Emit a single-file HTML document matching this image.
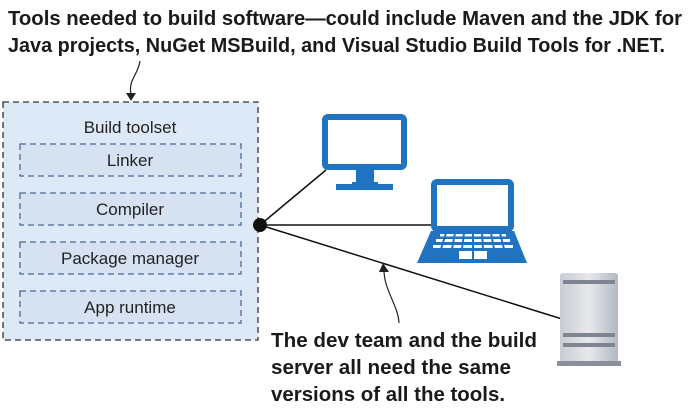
<!DOCTYPE html>
<html><head><meta charset="utf-8"><style>
html,body{margin:0;padding:0;background:#fff;}
svg{display:block;}
</style></head><body>
<svg width="697" height="411" viewBox="0 0 697 411" xmlns="http://www.w3.org/2000/svg">
<defs>
<linearGradient id="srv" x1="0" y1="0" x2="1" y2="0">
<stop offset="0" stop-color="#c9ccd4"/><stop offset="0.5" stop-color="#e6e8ec"/><stop offset="1" stop-color="#b4b8c2"/>
</linearGradient>
</defs>
<g font-family="Liberation Sans, sans-serif" font-weight="bold" font-size="20" fill="#1a1a1a">
<text x="8" y="25" textLength="674" lengthAdjust="spacingAndGlyphs">Tools needed to build software—could include Maven and the JDK for</text>
<text x="8" y="52" textLength="657" lengthAdjust="spacingAndGlyphs">Java projects, NuGet MSBuild, and Visual Studio Build Tools for .NET.</text>
<text x="271" y="347" textLength="266" lengthAdjust="spacingAndGlyphs">The dev team and the build</text>
<text x="271" y="374" textLength="240" lengthAdjust="spacingAndGlyphs">server all need the same</text>
<text x="271" y="401" textLength="234" lengthAdjust="spacingAndGlyphs">versions of all the tools.</text>
</g>
<!-- top arrow -->
<path d="M140 61 C138 75 128 80 131 94" fill="none" stroke="#222" stroke-width="1.2"/>
<polygon points="126,93 136,93 131,101" fill="#222"/>
<!-- outer box -->
<rect x="3" y="102" width="255" height="238" fill="#dde9f7" stroke="#333" stroke-width="1.3" stroke-dasharray="6,4"/>
<g font-family="Liberation Sans, sans-serif" font-size="17" fill="#222" text-anchor="middle">
<text x="130" y="133">Build toolset</text>
<rect x="20" y="144" width="221" height="32" fill="#d6e2f2" stroke="#4a6a95" stroke-width="1.3" stroke-dasharray="6,4"/>
<text x="130" y="166">Linker</text>
<rect x="20" y="193" width="221" height="32" fill="#d6e2f2" stroke="#4a6a95" stroke-width="1.3" stroke-dasharray="6,4"/>
<text x="130" y="215">Compiler</text>
<rect x="20" y="242" width="221" height="32" fill="#d6e2f2" stroke="#4a6a95" stroke-width="1.3" stroke-dasharray="6,4"/>
<text x="130" y="264">Package manager</text>
<rect x="20" y="291" width="221" height="32" fill="#d6e2f2" stroke="#4a6a95" stroke-width="1.3" stroke-dasharray="6,4"/>
<text x="130" y="313">App runtime</text>
</g>
<!-- connectors -->
<g stroke="#111" stroke-width="1.5">
<line x1="260" y1="225" x2="326" y2="170"/>
<line x1="260" y1="225" x2="434" y2="225"/>
<line x1="260" y1="225" x2="562" y2="319"/>
</g>
<circle cx="260" cy="225" r="7" fill="#111"/>
<!-- bottom arrow -->
<path d="M399 323 C398 305 384 290 384 270" fill="none" stroke="#222" stroke-width="1.2"/>
<polygon points="379,272 389,272 383,263" fill="#222"/>
<!-- monitor -->
<rect x="325" y="117" width="79" height="50" rx="3" fill="#fff" stroke="#1f73c0" stroke-width="6"/>
<rect x="356" y="170" width="18" height="12" fill="#1f73c0"/>
<path d="M352 182 h26 v3 h-26z" fill="#1f73c0"/>
<rect x="336" y="184" width="57" height="6" fill="#1f73c0"/>
<!-- laptop -->
<rect x="434" y="182" width="77" height="47" rx="3" fill="#fff" stroke="#1f73c0" stroke-width="6"/>
<polygon points="431,231 514,231 527,263 417,263" fill="#1f73c0"/>
<g fill="#fff">
<rect x="440" y="234" width="66" height="2.5"/>
<rect x="436" y="239" width="74" height="3"/>
<rect x="433" y="245" width="80" height="3"/>
<rect x="459" y="251" width="28" height="8"/>
</g>
<g stroke="#1f73c0" stroke-width="2">
<line x1="446" y1="233" x2="441" y2="249"/><line x1="455" y1="233" x2="452" y2="249"/><line x1="464" y1="233" x2="462" y2="249"/><line x1="473" y1="233" x2="473" y2="249"/><line x1="482" y1="233" x2="483" y2="249"/><line x1="491" y1="233" x2="494" y2="249"/><line x1="500" y1="233" x2="504" y2="249"/>
<line x1="473" y1="250" x2="473" y2="260"/>
</g>
<!-- server -->
<rect x="560" y="273" width="58" height="90" rx="3" fill="url(#srv)"/>
<rect x="563" y="280" width="52" height="4" fill="#7e8591"/>
<rect x="563" y="333" width="52" height="4" fill="#7e8591"/>
<rect x="563" y="343" width="52" height="4" fill="#7e8591"/>
<rect x="557" y="361" width="64" height="5" fill="#8a909b"/>
</svg>
</body></html>
